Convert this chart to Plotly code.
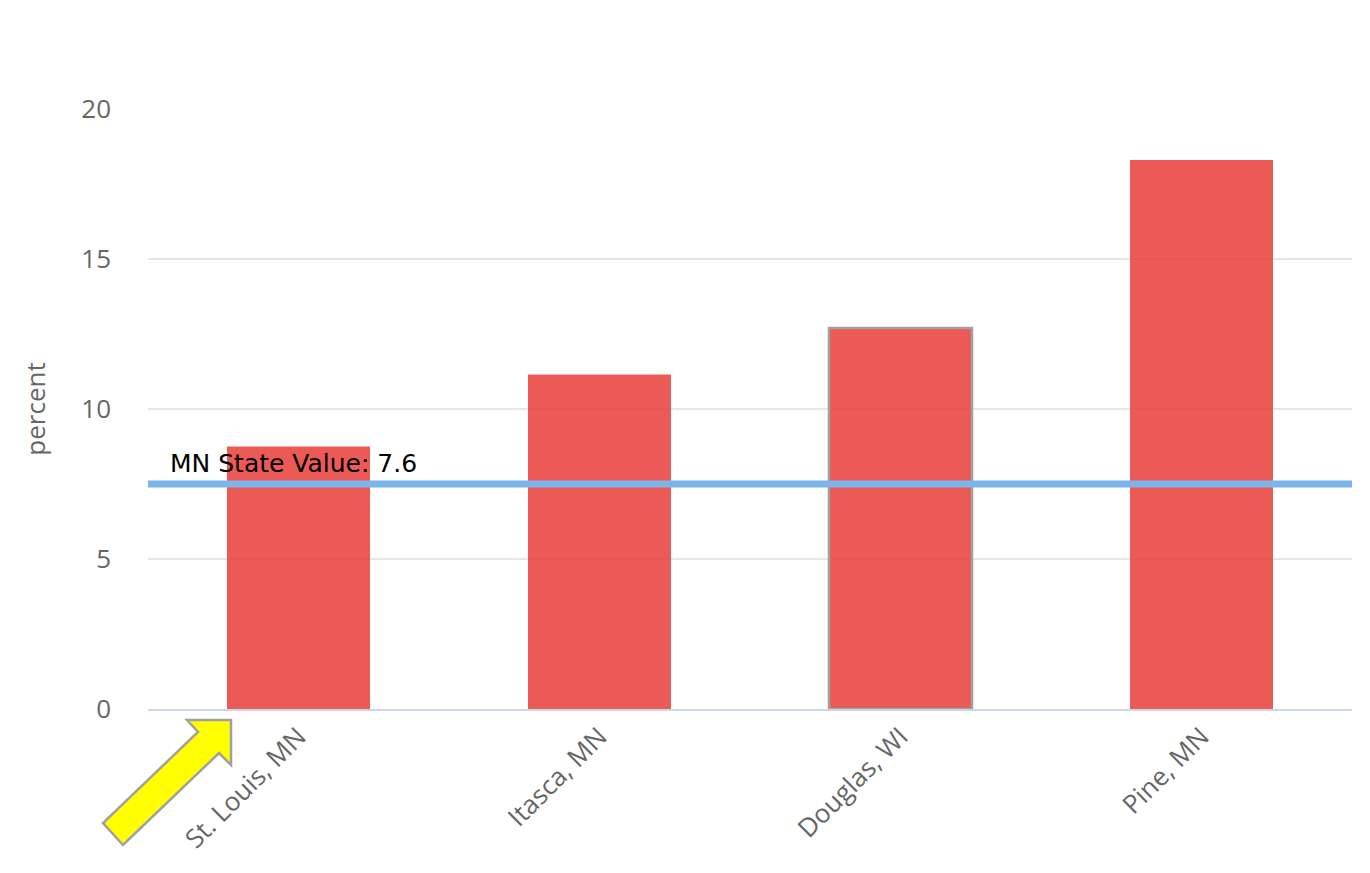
import plotly.graph_objects as go

categories = ["St. Louis, MN", "Itasca, MN", "Douglas, WI", "Pine, MN"]
values = [8.75, 11.15, 12.7, 18.3]
highlight = [False, False, True, False]
state_line_value = 7.5
state_label = "MN State Value: 7.6"
y_ticks = [0, 5, 10, 15, 20]

OFF = 8  # default page body margin
W, H = 1370 - OFF, 873 - OFF
L, R, T, B = 140, 18, 101, 164
pw, ph = W - L - R, H - T - B
plot_left, plot_bottom = OFF + L, OFF + T + ph

def px2paper(px, py):
    return (px - plot_left) / pw, (plot_bottom - py) / ph

fig = go.Figure()
fig.add_trace(go.Bar(
    x=categories, y=values, width=0.475,
    marker=dict(
        color="rgba(232,67,62,0.88)",
        line=dict(color=["#a0a0a0" if h else "rgba(0,0,0,0)" for h in highlight],
                  width=[2.5 if h else 0 for h in highlight]),
    ),
    hoverinfo="x+y", showlegend=False,
))

# state value line
fig.add_shape(type="line", xref="paper", yref="y", x0=0, x1=1,
              y0=state_line_value, y1=state_line_value,
              line=dict(color="#7cb5ec", width=7), layer="above")
fig.add_annotation(xref="paper", yref="y", x=px2paper(168, 0)[0], y=state_line_value,
                   text=state_label, showarrow=False, xanchor="left", yanchor="bottom",
                   yshift=4, font=dict(family="DejaVu Sans", size=25, color="#000000"))

# yellow arrow
arrow_px = [(231, 720), (187, 720), (198, 732), (103, 823), (123, 845),
            (219, 753), (231, 765)]
pts = [px2paper(x, y) for x, y in arrow_px]
path = "M " + " L ".join(f"{x:.5f},{y:.5f}" for x, y in pts) + " Z"
fig.add_shape(type="path", xref="paper", yref="paper", path=path,
              fillcolor="#ffff00", line=dict(color="#a0a0a0", width=2.5), layer="above")

fig.update_layout(
    width=W, height=H,
    margin=dict(l=L, r=R, t=T, b=B, autoexpand=False),
    plot_bgcolor="white", paper_bgcolor="white",
    font=dict(family="Open Sans", color="#666666", size=26),
    bargap=0.525,
    xaxis=dict(tickangle=-45, showgrid=False, showline=True, linecolor="#ccd6eb",
               linewidth=2, ticks="", tickfont=dict(size=26, color="#666666"),
               range=[-0.5, 3.5]),
    yaxis=dict(range=[0, 20], tickvals=y_ticks, showgrid=True, gridcolor="#e6e6e6",
               gridwidth=1.5, zeroline=False, ticks="", ticklabelstandoff=36,
               title=dict(text="percent", font=dict(size=26, color="#666666"), standoff=28),
               tickfont=dict(size=26, color="#666666")),
)
fig.write_html("out.html")
